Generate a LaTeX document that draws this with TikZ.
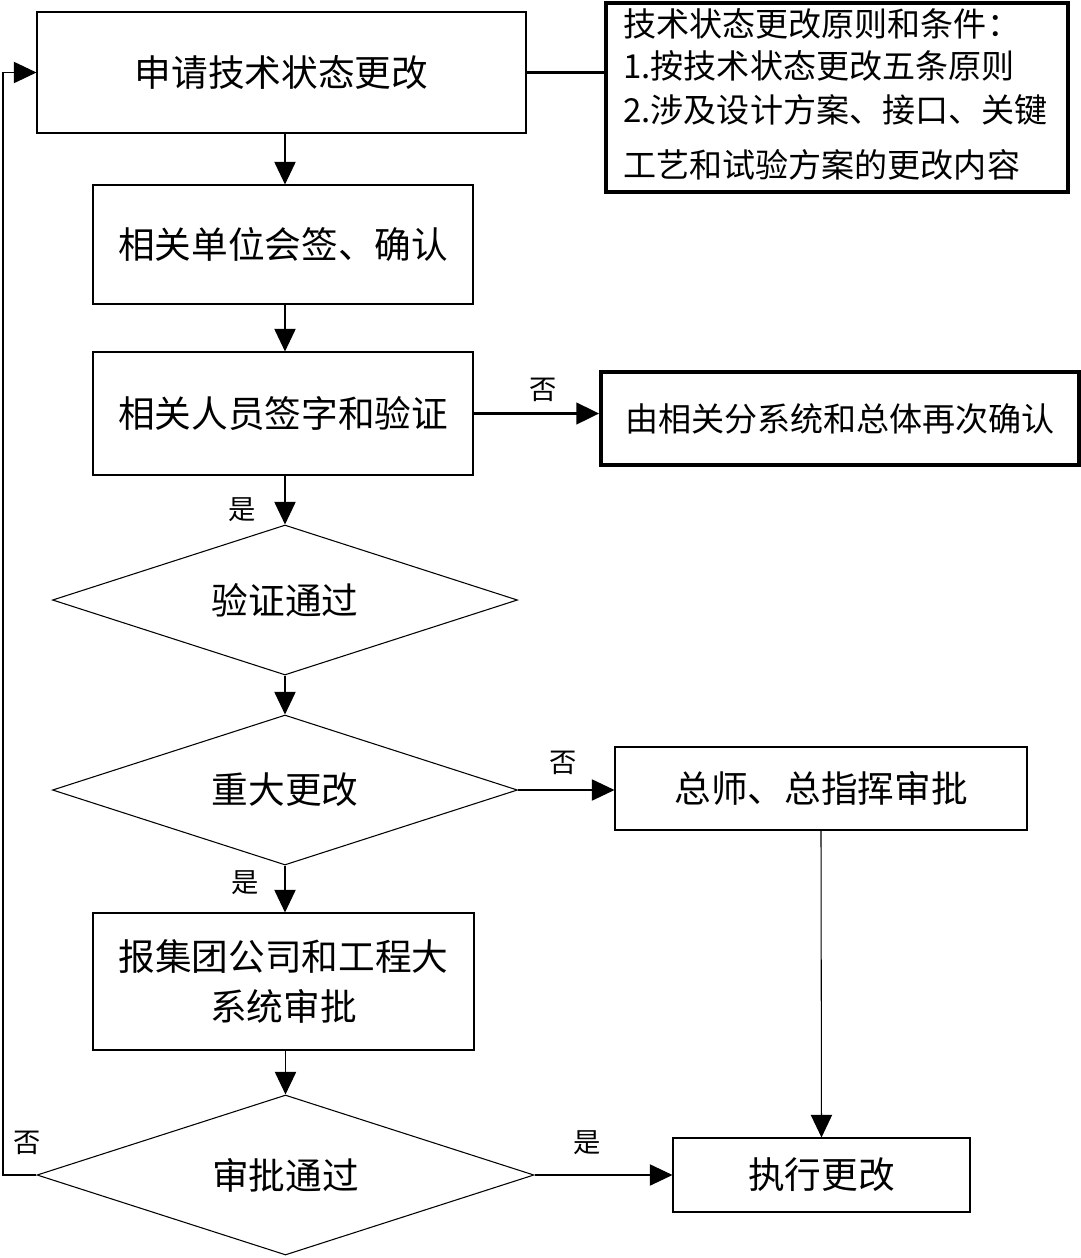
\documentclass[tikz,border=0pt]{standalone}
\usepackage{fontspec}
\newfontfamily\cjk{Noto Sans CJK SC}
\usetikzlibrary{shapes.geometric,arrows.meta}
\tikzset{
  big/.style={font=\cjk\fontsize{27.5pt}{33pt}\selectfont},
  mid/.style={font=\cjk\fontsize{24.8pt}{30pt}\selectfont},
  lab/.style={font=\cjk\fontsize{20.5pt}{24pt}\selectfont, inner sep=0pt},
  box/.style={draw, line width=0.8pt, rectangle, big, inner sep=0pt, align=center},
  thickbox/.style={draw, line width=2.8pt, rectangle, inner sep=0pt},
  dia/.style={draw, line width=0.8pt, diamond, shape aspect=3, inner sep=0pt, big},
  arr/.style={line width=0.8pt, -{Triangle[length=17pt,width=16pt]}},
  tarr/.style={line width=2.2pt, -{Triangle[length=17pt,width=16pt]}},
  notetxt/.style={mid, anchor=west, inner sep=0pt}
}
\begin{document}
\begin{tikzpicture}[x=0.75pt,y=-0.75pt]
\useasboundingbox (0,0) rectangle (1081,1258);
% boxes
\node[box, minimum width=366.75pt, minimum height=90.75pt] (b1) at (281.5,72.5) {申请技术状态更改};
\node[box, minimum width=285pt, minimum height=89.25pt] (b2) at (283,244.5) {相关单位会签、确认};
\node[box, minimum width=285pt, minimum height=92.25pt] (b3) at (283,413.5) {相关人员签字和验证};
\node[thickbox, mid, minimum width=358.5pt, minimum height=69.75pt] (b4) at (840,418.5) {由相关分系统和总体再次确认};
\node[dia, minimum width=348.75pt, minimum height=112.5pt] (d1) at (285,600) {验证通过};
\node[dia, minimum width=348.75pt, minimum height=112.5pt] (d2) at (285,790) {重大更改};
\node[box, minimum width=309pt, minimum height=62.25pt] (b5) at (821,788.5) {总师、总指挥审批};
\node[box, minimum width=285.75pt, minimum height=102.75pt] (b6) at (283.5,981.5) {报集团公司和工程大\\[4pt]系统审批};
\node[dia, minimum width=372.75pt, minimum height=120pt] (d3) at (285.5,1175) {审批通过};
\node[box, minimum width=222.75pt, minimum height=55.5pt] (b7) at (821.5,1175) {执行更改};
% note
\node[thickbox, minimum width=346.5pt, minimum height=141.75pt] (note) at (837,97.5) {};
\node[notetxt] (n1) at (623,24) {技术状态更改原则和条件：};
\node[notetxt] (n2) at (623,66) {1.按技术状态更改五条原则};
\node[notetxt] (n3) at (623,110) {2.涉及设计方案、接口、关键};
\node[notetxt] (n4) at (623,165) {工艺和试验方案的更改内容};
% connectors
\coordinate (lx) at (3,0);
\draw[line width=2.4pt] (b1.east) -- (note.west |- b1.east);
\draw[arr] (b1.south -| d1.north) -- (b2.north -| d1.north);
\draw[arr] (b2.south -| d1.north) -- (b3.north -| d1.north);
\draw[tarr] (b3.east) -- (b4.west |- b3.east);
\draw[arr] (b3.south -| d1.north) -- (d1.north);
\draw[arr] (d1.south) -- (d2.north);
\draw[arr] (d2.east) -- (d2.east -| b5.west);
\draw[arr] (b5.south) -- (b7.north);
\draw[arr] (d2.south) -- (b6.north -| d2.south);
\draw[arr] (b6.south -| d3.north) -- (d3.north);
\draw[arr] (d3.east) -- (b7.west);
\draw[arr] (d3.west) -- (d3.west -| lx) |- (b1.west);
% labels
\node[lab] (l1) at (543,390) {否};
\node[lab] (l2) at (242,510) {是};
\node[lab] (l3) at (563,763) {否};
\node[lab] (l4) at (245,883) {是};
\node[lab] (l5) at (27,1143) {否};
\node[lab] (l6) at (587,1143) {是};
\end{tikzpicture}
\end{document}
